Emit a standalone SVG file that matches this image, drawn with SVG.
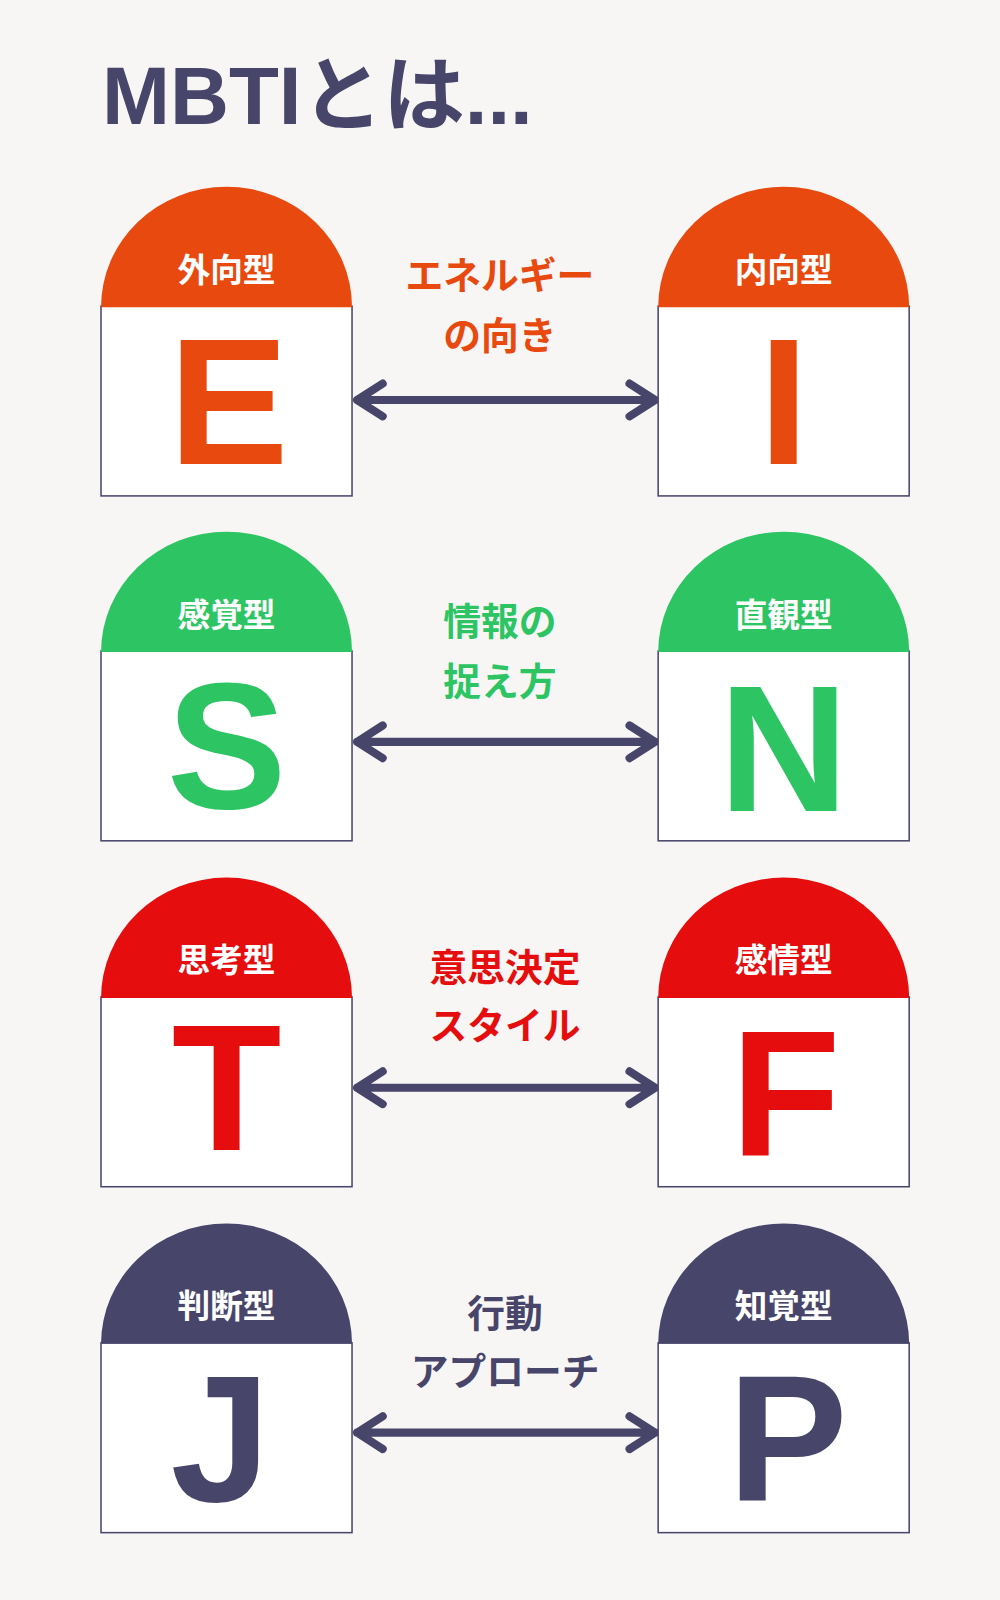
<svg xmlns="http://www.w3.org/2000/svg" width="1000" height="1600" viewBox="0 0 1000 1600">
<defs>
<style>
.bg{fill:#F7F6F4}
.box{fill:#fff;stroke:#48456A;stroke-width:1.5}
.lbl{font-family:"Noto Sans CJK JP",sans-serif;font-weight:700;font-size:32px;fill:#fff;text-anchor:middle}
.big{font-family:"Liberation Sans",Arial,sans-serif;font-weight:700;font-size:176px;text-anchor:middle}
.mid{font-family:"Noto Sans CJK JP",sans-serif;font-weight:700;font-size:37px;text-anchor:middle}
.arr{stroke:#48456A;stroke-width:8;fill:none;stroke-linecap:round;stroke-linejoin:round}
</style>
<g id="card">
<rect class="box" x="0" y="117" width="246" height="186"/>
<path d="M0,118 A123,118 0 0 1 246,118 Z"/>
</g>
</defs>
<rect class="bg" width="1000" height="1600"/>
<g transform="scale(1.0204)">
<text id="title" x="100" y="122" font-family="Liberation Sans,'Noto Sans CJK JP',sans-serif" font-weight="700" font-size="80" fill="#48456A">MBTIとは...</text>
<g id="connectors">
<path class="arr" d="M350,392H642M375,376L350,392L375,408M617,376L642,392L617,408"/>
<path class="arr" d="M350,727H642M375,711L350,727L375,743M617,711L642,727L617,743"/>
<path class="arr" d="M350,1066H642M375,1050L350,1066L375,1082M617,1050L642,1066L617,1082"/>
<path class="arr" d="M350,1404H642M375,1388L350,1404L375,1420M617,1388L642,1404L617,1420"/>
</g>
<g id="E" fill="#E8490F"><use href="#card" x="99" y="183"/><text class="lbl" x="222" y="276">外向型</text><text class="big" x="224" y="455">E</text></g>
<g id="I" fill="#E8490F"><use href="#card" x="645" y="183"/><text class="lbl" x="768" y="276">内向型</text><text class="big" x="768" y="455">I</text></g>
<g id="S" fill="#2DC563"><use href="#card" x="99" y="521"/><text class="lbl" x="222" y="614">感覚型</text><text class="big" x="222" y="792">S</text></g>
<g id="N" fill="#2DC563"><use href="#card" x="645" y="521"/><text class="lbl" x="768" y="614">直観型</text><text class="big" x="768" y="795">N</text></g>
<g id="T" fill="#E50D0D"><use href="#card" x="99" y="860"/><text class="lbl" x="222" y="953">思考型</text><text class="big" x="222" y="1127">T</text></g>
<g id="F" fill="#E50D0D"><use href="#card" x="645" y="860"/><text class="lbl" x="768" y="953">感情型</text><text class="big" x="770" y="1133">F</text></g>
<g id="J" fill="#48456A"><use href="#card" x="99" y="1199"/><text class="lbl" x="222" y="1292">判断型</text><text class="big" x="216" y="1471">J</text></g>
<g id="P" fill="#48456A"><use href="#card" x="645" y="1199"/><text class="lbl" x="768" y="1292">知覚型</text><text class="big" x="772" y="1471">P</text></g>
<g id="m1" fill="#E8490F"><text class="mid" x="490" y="283">エネルギー</text><text class="mid" x="490" y="342">の向き</text></g>
<g id="m2" fill="#2DC563"><text class="mid" x="490" y="622">情報の</text><text class="mid" x="490" y="681">捉え方</text></g>
<g id="m3" fill="#E50D0D"><text class="mid" x="495" y="961">意思決定</text><text class="mid" x="495" y="1018">スタイル</text></g>
<g id="m4" fill="#48456A"><text class="mid" x="495" y="1300">行動</text><text class="mid" x="495" y="1357">アプローチ</text></g>
</g>
</svg>
